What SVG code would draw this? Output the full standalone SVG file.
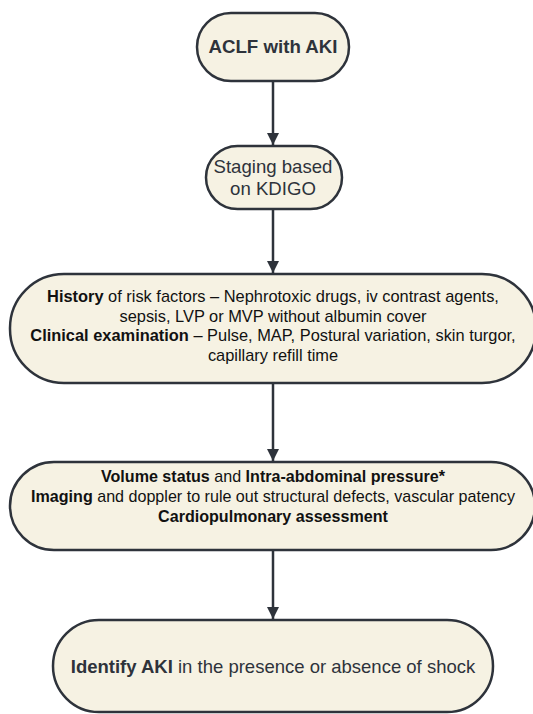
<svg xmlns="http://www.w3.org/2000/svg" width="533" height="714" viewBox="0 0 533 714">
<defs>
<style>
.node{fill:#f6f2e3;stroke:#2e333b;stroke-width:2.5}
.edge{stroke:#2e333b;stroke-width:2.5;fill:none}
.t{font-family:"Liberation Sans",Arial,sans-serif;text-anchor:middle;fill:#111}
.s{fill:#2e333b}
.b{font-weight:bold}
</style>
<marker id="ah" viewBox="0 0 12 16" refX="12" refY="8" markerWidth="12" markerHeight="16" markerUnits="userSpaceOnUse" orient="auto">
<path d="M0,2 L12,8 L0,14 Z" fill="#2e333b"/>
</marker>
</defs>
<rect width="533" height="714" fill="#ffffff"/>
<g id="connectors">
<line class="edge" x1="273" y1="81" x2="273" y2="145" marker-end="url(#ah)"/>
<line class="edge" x1="273" y1="209" x2="273" y2="273" marker-end="url(#ah)"/>
<line class="edge" x1="273" y1="383" x2="273" y2="461" marker-end="url(#ah)"/>
<line class="edge" x1="273" y1="550" x2="273" y2="619" marker-end="url(#ah)"/>
</g>
<g id="n1">
<rect class="node" x="197" y="13" width="152" height="68" rx="34"/>
<text class="t s b" x="273" y="53" font-size="18.7">ACLF with AKI</text>
</g>
<g id="n2">
<rect class="node" x="206" y="146" width="136" height="63" rx="31.5"/>
<text class="t s" x="273" y="173" font-size="18.6">Staging based</text>
<text class="t s" x="273" y="195" font-size="18.6">on KDIGO</text>
</g>
<g id="n3">
<rect class="node" x="10" y="274" width="526" height="109" rx="54"/>
<text class="t" x="273" y="302" font-size="16.4"><tspan class="b">History</tspan> of risk factors – Nephrotoxic drugs, iv contrast agents,</text>
<text class="t" x="273" y="322" font-size="16.4">sepsis, LVP or MVP without albumin cover</text>
<text class="t" x="273" y="341" font-size="16.4"><tspan class="b">Clinical examination</tspan> – Pulse, MAP, Postural variation, skin turgor,</text>
<text class="t" x="273" y="361" font-size="16.4">capillary refill time</text>
</g>
<g id="n4">
<rect class="node" x="10" y="462" width="525" height="88" rx="44"/>
<text class="t" x="273" y="482" font-size="16.1"><tspan class="b">Volume status</tspan> and <tspan class="b">Intra-abdominal pressure*</tspan></text>
<text class="t" x="273" y="502" font-size="16.1"><tspan class="b">Imaging</tspan> and doppler to rule out structural defects, vascular patency</text>
<text class="t" x="273" y="522" font-size="16.1" font-weight="bold">Cardiopulmonary assessment</text>
</g>
<g id="n5">
<rect class="node" x="53" y="620" width="440" height="92" rx="46"/>
<text class="t s" x="273" y="673" font-size="18.5"><tspan class="b">Identify AKI</tspan> in the presence or absence of shock</text>
</g>
</svg>
